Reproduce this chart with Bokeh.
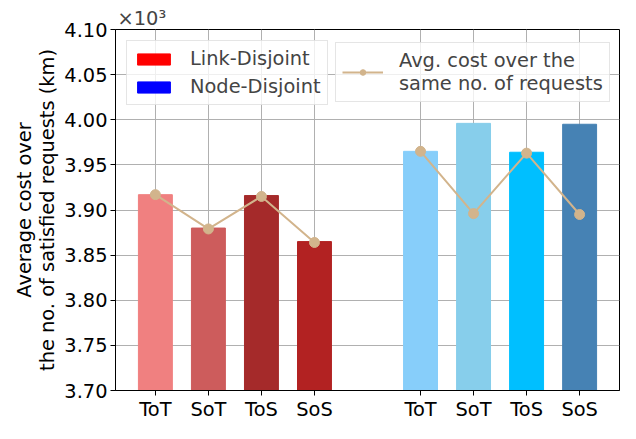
from bokeh.plotting import figure
from bokeh.models import (ColumnDataSource, Range1d, FixedTicker, CustomJSTickFormatter,
                          Legend, LegendItem)
from bokeh.embed import file_html
from bokeh.resources import INLINE

# ---- data (km) ----
strategies = ["ToT", "SoT", "ToS", "SoS"]
groups = ["Link-Disjoint", "Node-Disjoint"]
link_cost = [3917, 3880, 3916, 3865]
node_cost = [3965, 3996, 3964, 3995]
link_same = [3917, 3879, 3915, 3864]
node_same = [3965, 3896, 3963, 3895]
link_colors = ["#F08080", "#CD5C5C", "#A52A2A", "#B22222"]
node_colors = ["#87CEFA", "#87CEEB", "#00BFFF", "#4682B4"]
group_colors = ["red", "blue"]
line_color = "#D2B48C"
y_ticks = [3700, 3750, 3800, 3850, 3900, 3950, 4000, 4050, 4100]

link_x = [0, 1, 2, 3]
node_x = [5, 6, 7, 8]

FONT = "DejaVu Sans"
FS = "19.4px"

p = figure(width=620, height=423, output_backend="svg", toolbar_location=None,
           x_range=Range1d(-0.752, 8.752), y_range=Range1d(3700, 4100),
           min_border_left=115, min_border_right=1, min_border_top=29, min_border_bottom=25,
           title="×10³")
p.title.text_font = FONT
p.title.text_font_size = FS
p.title.text_font_style = "normal"
p.title.align = "left"
p.title.standoff = 0
p.title.offset = 2

bars = ColumnDataSource(dict(x=link_x + node_x, top=link_cost + node_cost,
                             color=link_colors + node_colors))
p.vbar(x="x", top="top", bottom=0, width=0.64, color="color", source=bars)

# dummy (not drawn) renderers for the group legend
nan = float("nan")
dummies = []
for g, c in zip(groups, group_colors):
    r = p.vbar(x=[nan], top=[nan], width=0.64, color=c)
    dummies.append((g, r))

l1 = p.line(link_x, link_same, line_color=line_color, line_width=2)
s1 = p.scatter(link_x, link_same, size=10, fill_color=line_color, line_color=line_color)
l2 = p.line(node_x, node_same, line_color=line_color, line_width=2)
s2 = p.scatter(node_x, node_same, size=10, fill_color=line_color, line_color=line_color)

# axes
p.xaxis.ticker = FixedTicker(ticks=link_x + node_x)
p.xaxis.major_label_overrides = {x: s for x, s in zip(link_x + node_x, strategies + strategies)}
p.yaxis.ticker = FixedTicker(ticks=y_ticks)
p.yaxis.formatter = CustomJSTickFormatter(code="return (tick/1000).toFixed(2);")
p.yaxis.axis_label = "Average cost over\nthe no. of satisfied requests (km)"
for ax in (p.xaxis, p.yaxis):
    ax.major_label_text_font = FONT
    ax.major_label_text_font_size = FS
    ax.major_label_text_color = "black"
    ax.axis_label_text_font = FONT
    ax.axis_label_text_font_size = FS
    ax.axis_label_text_font_style = "normal"
    ax.axis_label_text_color = "black"
    ax.axis_line_color = "black"
    ax.major_tick_line_color = "black"
    ax.major_tick_out = 5
    ax.major_tick_in = 0
    ax.minor_tick_line_color = None
p.xaxis.major_label_standoff = 2
p.yaxis.major_label_standoff = 3
p.yaxis.axis_label_standoff = 2
p.yaxis.axis_label_text_line_height = 1.0

p.grid.grid_line_color = "#b0b0b0"
p.grid.grid_line_width = 1
p.outline_line_color = "black"
p.outline_line_width = 1

common = dict(label_text_font=FONT, label_text_font_size=FS, border_line_color="#cccccc",
              border_line_width=1, background_fill_alpha=0.8, padding=6, spacing=5,
              glyph_width=41, glyph_height=14, label_standoff=16,
              label_text_line_height=1.1)

leg1 = Legend(items=[LegendItem(label=g, renderers=[r]) for g, r in dummies],
              location="top_left", margin=11, **common)
leg2 = Legend(items=[LegendItem(label="Avg. cost over the\nsame no. of requests",
                                renderers=[l1, s1])],
              location=(220, 288), margin=0, **common)
p.add_layout(leg1)
p.add_layout(leg2)

open("out.html", "w").write(file_html(p, INLINE))
